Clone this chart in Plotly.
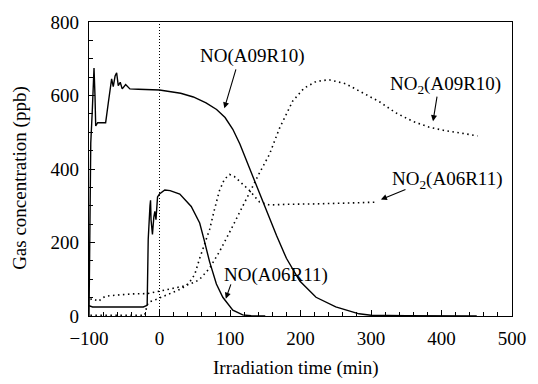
import plotly.graph_objects as go

# ---- data ----
no_a09_x = [-100, -99, -97.5, -95.3, -92.9, -91.5, -90.5, -87.7, -80, -76.4, -72.7, -67.9, -65.6, -63, -60.8,
            -58.5, -55.7, -52.9, -48, -42, -30, -15, 0, 30, 48, 66, 81, 93, 104, 114, 123, 132, 142, 151,
            166, 180, 199, 222, 250, 283, 300, 350, 450]
no_a09_y = [0, 200, 470, 560, 675, 600, 517, 526, 526, 526, 579, 645, 624, 653, 662,
            627, 636, 618, 630, 618, 617, 616, 615, 606, 596, 580, 562, 540, 508, 468, 425, 378, 330, 290,
            219, 157, 95, 51, 25, 6, 2, 0.5, 0]

no_a06_x = [-100, -95, -60, -23, -17.5, -17, -16, -13.5, -12.7, -12, -10, -8, -6.6, -5, -2.8, 0, 7.5, 15,
            28.8, 45, 57, 63, 71, 80.7, 89.8, 104, 118, 130, 150]
no_a06_y = [28, 24.5, 24.5, 24.5, 29, 140, 209, 300, 315, 262, 222, 270, 285, 262, 324, 332, 343, 341,
            332, 298, 253, 209, 148, 87, 51, 16, 3, 0.5, 0]

no2_a09_x = [-98, -96, -90, -86, -82, -76, -60, -40, -17, 0, 20, 36, 50, 57, 71, 85, 100, 113, 128, 142,
             156, 170, 189, 205, 222, 240, 264, 288, 312, 335, 359, 382, 406, 430, 451]
no2_a09_y = [45, 47, 43, 40, 48, 54, 57, 60, 61, 68, 75, 82, 92, 100, 130, 175, 230, 280, 340, 390,
             440, 510, 585, 620, 638, 643, 632, 607, 583, 553, 530, 514, 504, 497, 490]

no2_a06_x = [-98, -60, -21, -17.5, -15, -5, 7.5, 20, 31, 42, 50, 57, 63, 71, 78, 85, 92, 99.5, 106,
             113.7, 121, 128, 135, 142, 156, 180, 220, 255, 280, 309]
no2_a06_y = [2, 2, 2, 30, 38, 45, 55, 63, 74, 90, 113, 157, 193, 235, 290, 341, 372, 385, 380,
             367, 355, 341, 325, 310, 302, 304, 305, 306, 308, 310]

x_tickvals = [-100, 0, 100, 200, 300, 400, 500]
x_ticktext = ["\u2212100", "0", "100", "200", "300", "400", "500"]
y_tickvals = [0, 200, 400, 600, 800]
y_ticktext = ["0", "200", "400", "600", "800"]

FONT = "Liberation Serif, Times New Roman, serif"
FS = 19

fig = go.Figure()
solid = dict(color="black", width=1.4)
dotted = dict(color="black", width=1.6, dash="1.5px,3.5px")
fig.add_trace(go.Scatter(x=no_a09_x, y=no_a09_y, mode="lines", line=solid, showlegend=False))
fig.add_trace(go.Scatter(x=no_a06_x, y=no_a06_y, mode="lines", line=solid, showlegend=False))
fig.add_trace(go.Scatter(x=no2_a09_x, y=no2_a09_y, mode="lines", line=dotted, showlegend=False))
fig.add_trace(go.Scatter(x=no2_a06_x, y=no2_a06_y, mode="lines", line=dotted, showlegend=False))

# vertical dotted line at t = 0
fig.add_shape(type="line", x0=0, x1=0, y0=0, y1=800, xref="x", yref="y",
              line=dict(color="black", width=1, dash="1px,2px"))

# labels
labels = [
    ("NO(A09R10)", 132, 707),
    ("NO<sub>2</sub>(A09R10)", 405, 628),
    ("NO<sub>2</sub>(A06R11)", 408, 369),
    ("NO(A06R11)", 165, 111),
]
for t, lx, ly in labels:
    fig.add_annotation(x=lx, y=ly, text=t, showarrow=False, xref="x", yref="y",
                       font=dict(family=FONT, size=FS, color="black"))

arrows = [
    (109, 675, 92, 565),
    (394, 601, 388, 530),
    (351, 346, 314, 317),
    (102, 90, 94, 47),
]
for tx, ty, hx, hy in arrows:
    fig.add_annotation(x=hx, y=hy, ax=tx, ay=ty, xref="x", yref="y", axref="x", ayref="y",
                       text="", showarrow=True, arrowhead=2, arrowsize=1.1, arrowwidth=1.1,
                       arrowcolor="black", standoff=0)

# axis titles
fig.add_annotation(x=0.49, y=-0.178, xref="paper", yref="paper", text="Irradiation time (min)",
                   showarrow=False, yanchor="middle", xanchor="center",
                   font=dict(family=FONT, size=FS, color="black"))
fig.add_annotation(x=-0.163, y=0.47, xref="paper", yref="paper", text="Gas concentration (ppb)",
                   showarrow=False, textangle=-90, xanchor="center", yanchor="middle",
                   font=dict(family=FONT, size=FS, color="black"))

fig.update_layout(
    width=538, height=384,
    margin=dict(l=89, r=25, t=13, b=68),
    paper_bgcolor="white", plot_bgcolor="white",
    font=dict(family=FONT, size=FS, color="black"),
)
fig.update_xaxes(range=[-100, 500], tickvals=x_tickvals, ticktext=x_ticktext,
                 showgrid=False, zeroline=False, showline=True, linecolor="black", linewidth=1.3,
                 mirror=True, ticks="inside", ticklen=6, tickwidth=1.2, tickcolor="black",
                 minor=dict(dtick=20, ticks="inside", ticklen=3.5, tickwidth=1, tickcolor="black"),
                 ticklabelstandoff=5)
fig.update_yaxes(range=[0, 800], tickvals=y_tickvals, ticktext=y_ticktext,
                 showgrid=False, zeroline=False, showline=True, linecolor="black", linewidth=1.3,
                 mirror=True, ticks="inside", ticklen=6, tickwidth=1.2, tickcolor="black",
                 minor=dict(dtick=50, ticks="inside", ticklen=3.5, tickwidth=1, tickcolor="black"),
                 ticklabelstandoff=5)

fig.write_html("out.html")
